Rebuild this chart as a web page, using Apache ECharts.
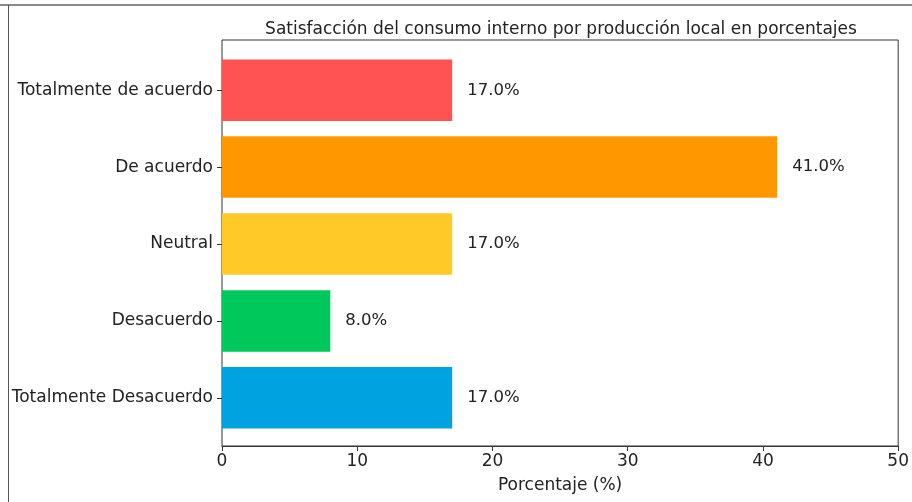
<!DOCTYPE html>
<html>
<head>
<meta charset="utf-8">
<script src="https://cdn.jsdelivr.net/npm/echarts@6/dist/echarts.min.js"></script>
<style>html,body{margin:0;padding:0;background:#fff}#c{width:912px;height:502px}</style>
</head>
<body>
<div id="c"></div>
<script>
const categories = ["Totalmente de acuerdo", "De acuerdo", "Neutral", "Desacuerdo", "Totalmente Desacuerdo"];
const values = [17.0, 41.0, 17.0, 8.0, 17.0];
const barColors = ["#FF5252", "#FF9800", "#FFCA28", "#00C85A", "#00A3E0"];
const xTicks = [0, 10, 20, 30, 40, 50];

const FONT = "DejaVu Sans";
const chart = echarts.init(document.getElementById('c'), null, {renderer: 'canvas'});
const L = 222, R = 13, T = 40, B = 56;
const pad = 10.8;
chart.setOption({
  animation: false,
  backgroundColor: '#fff',
  title: {
    text: 'Satisfacción del consumo interno por producción local en porcentajes',
    left: 556, top: 16, textAlign: 'center',
    textStyle: {fontFamily: FONT, fontSize: 17, fontWeight: 'normal', color: '#222'}
  },
  graphic: [
    {type: 'line', shape: {x1: 0, y1: 5, x2: 912, y2: 5}, style: {stroke: '#888', lineWidth: 2}},
    {type: 'line', shape: {x1: 8.5, y1: 5, x2: 8.5, y2: 502}, style: {stroke: '#555', lineWidth: 1}}
  ],
  grid: [
    {left: L, right: R, top: T, bottom: B, show: true, borderColor: '#333', borderWidth: 1, backgroundColor: 'transparent'},
    {left: L, right: R, top: T + pad + 1, bottom: B + pad - 1}
  ],
  xAxis: [
    {gridIndex: 0, type: 'value', min: 0, max: 50, interval: 10,
     axisLine: {show: true, lineStyle: {color: '#333'}},
     axisTick: {show: true, length: 5, lineStyle: {color: '#333'}},
     axisLabel: {fontFamily: FONT, fontSize: 17, color: '#222', margin: 7,
       formatter: v => xTicks.includes(v) ? String(v) : ''},
     splitLine: {show: false},
     name: 'Porcentaje (%)', nameLocation: 'middle', nameGap: 31,
     nameTextStyle: {fontFamily: FONT, fontSize: 17, color: '#222'}},
    {gridIndex: 1, type: 'value', min: 0, max: 50, show: false, splitLine: {show: false}}
  ],
  yAxis: [
    {gridIndex: 0, type: 'value', min: 0, max: 1, show: false, splitLine: {show: false}},
    {gridIndex: 1, type: 'category', data: categories, inverse: true,
     axisLine: {show: false},
     axisTick: {show: true, alignWithLabel: true, length: 5, lineStyle: {color: '#333'}},
     axisLabel: {fontFamily: FONT, fontSize: 17, color: '#222', margin: 9},
     splitLine: {show: false}}
  ],
  series: [{
    type: 'bar', xAxisIndex: 1, yAxisIndex: 1,
    data: values.map((v, i) => ({value: v, itemStyle: {color: barColors[i]}})),
    barCategoryGap: '20%',
    label: {show: true, position: 'right', distance: 15, fontFamily: FONT, fontSize: 16.5, color: '#222',
      formatter: p => p.value.toFixed(1) + '%'}
  }]
});
</script>
</body>
</html>
